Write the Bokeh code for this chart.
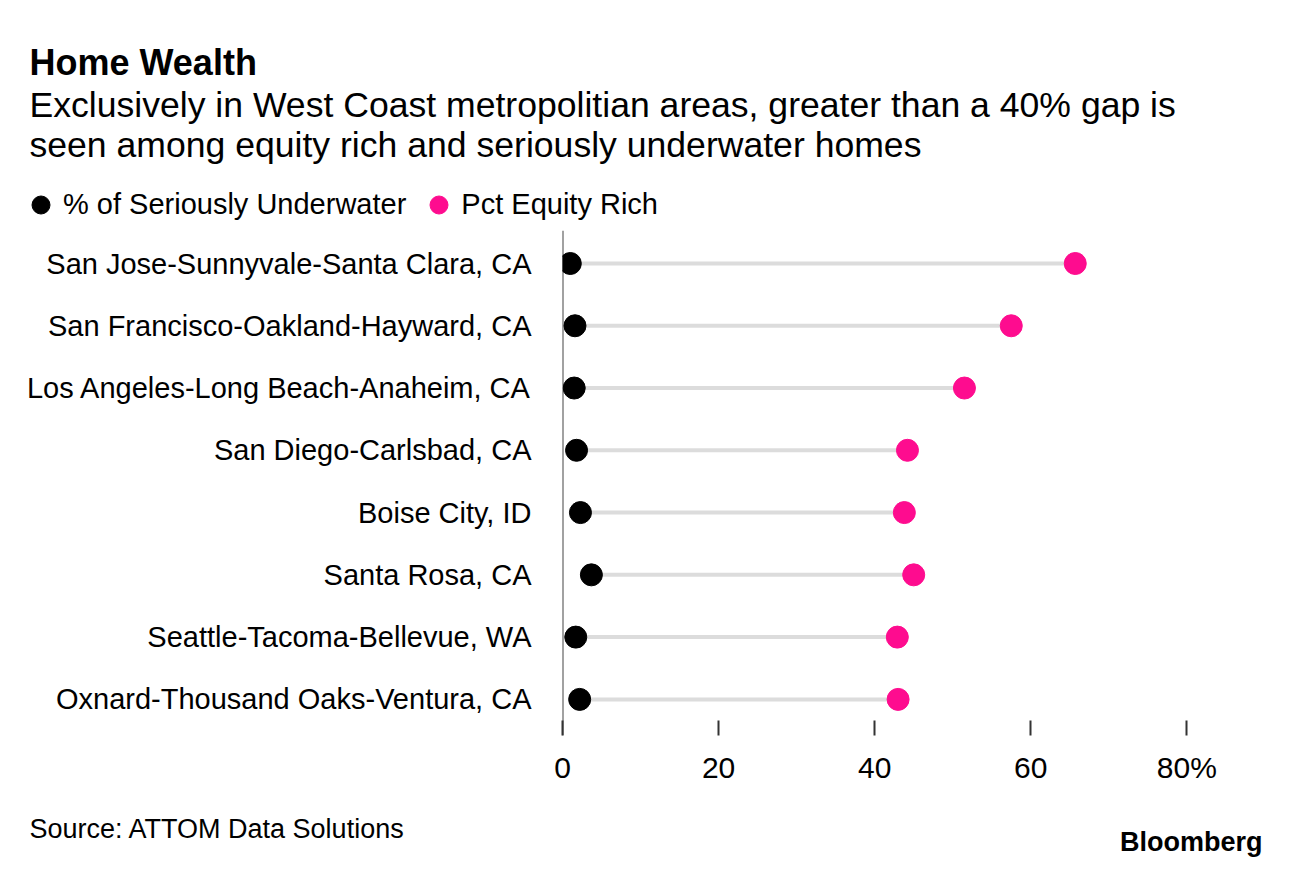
from bokeh.plotting import figure
from bokeh.layouts import column
from bokeh.models import Label, Legend, LegendItem, Span, FixedTicker, Range1d, ColumnDataSource
from bokeh.embed import file_html
from bokeh.resources import INLINE

categories = [
    "San Jose-Sunnyvale-Santa Clara, CA",
    "San Francisco-Oakland-Hayward, CA",
    "Los Angeles-Long Beach-Anaheim, CA",
    "San Diego-Carlsbad, CA",
    "Boise City, ID",
    "Santa Rosa, CA",
    "Seattle-Tacoma-Bellevue, WA",
    "Oxnard-Thousand Oaks-Ventura, CA",
]
underwater = [1.0, 1.6, 1.5, 1.8, 2.3, 3.7, 1.7, 2.2]
equity_rich = [65.7, 57.5, 51.5, 44.2, 43.8, 45.0, 42.9, 43.0]
x_ticks = [0, 20, 40, 60, 80]
x_tick_labels = ["0", "20", "40", "60", "80%"]
series_names = ["% of Seriously Underwater", "Pct Equity Rich"]

FONT = "Liberation Sans"
PINK = "#fe0c8f"
W = 1274
HEAD_H, MAIN_H, FOOT_H = 230, 560, 70


def blank(height):
    f = figure(width=W, height=height, output_backend="svg", toolbar_location=None,
               x_range=Range1d(0, W), y_range=Range1d(height, 0),
               x_axis_location=None, y_axis_location=None,
               min_border=0, outline_line_color=None, frame_align=False)
    f.grid.visible = False
    return f


def lab(f, text, x, y, size, style="normal", align="left"):
    f.add_layout(Label(x=x, y=y, text=text, text_font=FONT, text_font_size=size,
                       text_font_style=style, text_color="black",
                       text_align=align, text_baseline="alphabetic"))


# ---- header ----
head = blank(HEAD_H)
lab(head, "Home Wealth", 29, 75 - 13, "36px", "bold")
lab(head, "Exclusively in West Coast metropolitian areas, greater than a 40% gap is", 29, 117 - 13, "35.6px")
lab(head, "seen among equity rich and seriously underwater homes", 29, 157 - 13, "35.6px")
h_under = head.scatter(x=[-100], y=[-100], marker="circle", fill_color="black", line_color="black")
h_rich = head.scatter(x=[-100], y=[-100], marker="circle", fill_color=PINK, line_color=PINK)
legend = Legend(items=[LegendItem(label=series_names[0], renderers=[h_under]),
                       LegendItem(label=series_names[1], renderers=[h_rich])],
                orientation="horizontal", location=(18, 3),
                border_line_color=None, background_fill_alpha=0,
                label_text_font=FONT, label_text_font_size="29px",
                label_text_color="black",
                glyph_width=45, glyph_height=45, label_standoff=0,
                spacing=10, padding=0, margin=0)
head.add_layout(legend, "center")

# ---- main chart ----
idx = list(range(len(categories)))
src = ColumnDataSource(dict(y=idx, under=underwater, rich=equity_rich))

p = figure(width=W, height=MAIN_H, output_backend="svg", toolbar_location=None,
           x_range=Range1d(0, 87), y_range=Range1d(7.58, -0.53),
           min_border_left=562, min_border_right=W - 562 - 679, min_border_top=0,
           min_border_bottom=MAIN_H - 505, outline_line_color=None,
           background_fill_color="white", border_fill_color="white",
           frame_align=False)
p.grid.visible = False

p.add_layout(Span(location=0, dimension="height", line_color="#444444",
                  line_width=2, level="underlay"))

p.segment(x0="under", x1="rich", y0="y", y1="y", source=src,
          line_color="#dcdcdc", line_width=4)
p.scatter(x="under", y="y", source=src, size=22, marker="circle",
          fill_color="black", line_color="black")
p.scatter(x="rich", y="y", source=src, size=22, marker="circle",
          fill_color=PINK, line_color=PINK)

xa = p.xaxis[0]
xa.ticker = FixedTicker(ticks=x_ticks)
xa.major_label_overrides = {t: l for t, l in zip(x_ticks, x_tick_labels)}
xa.axis_line_color = None
xa.major_tick_in = 15
xa.major_tick_out = 0
xa.major_tick_line_color = "#333333"
xa.major_tick_line_width = 2
xa.minor_tick_line_color = None
xa.major_label_text_font = FONT
xa.major_label_text_font_size = "30px"
xa.major_label_text_color = "black"
xa.major_label_standoff = 15

ya = p.yaxis[0]
ya.ticker = FixedTicker(ticks=idx)
ya.major_label_overrides = {i: c for i, c in zip(idx, categories)}
ya.axis_line_color = None
ya.major_tick_line_color = None
ya.minor_tick_line_color = None
ya.major_tick_out = 0
ya.major_tick_in = 0
ya.major_label_text_font = FONT
ya.major_label_text_font_size = "29px"
ya.major_label_text_color = "black"
ya.major_label_standoff = 31

# ---- footer ----
foot = blank(FOOT_H)
off = HEAD_H + MAIN_H
lab(foot, "Source: ATTOM Data Solutions", 29, 839 - off - 11, "27px")
lab(foot, "Bloomberg", 1262, 852 - off - 11, "27px", "bold", "right")

layout = column(head, p, foot, spacing=0)
open("out.html", "w").write(file_html(layout, INLINE))
